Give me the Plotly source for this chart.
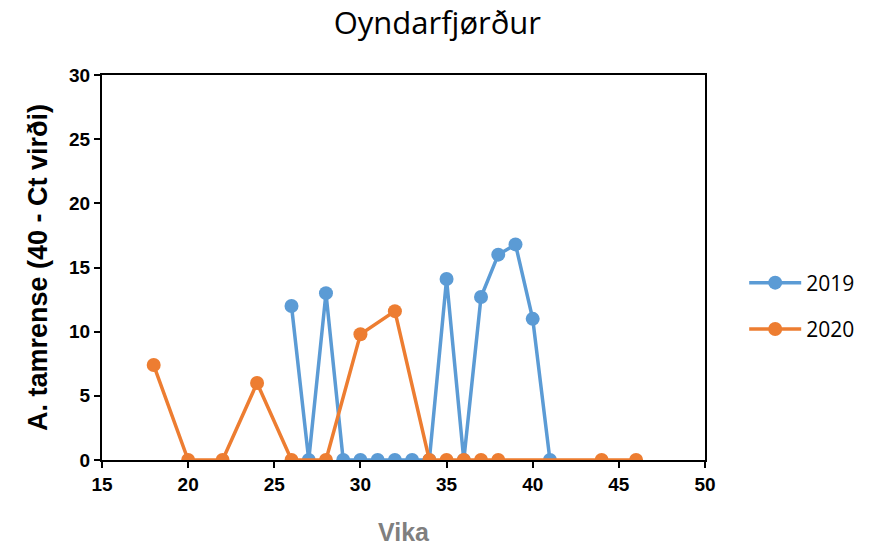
import plotly.graph_objects as go

weeks_2019 = [26, 27, 28, 29, 30, 31, 32, 33, 34, 35, 36, 37, 38, 39, 40, 41]
vals_2019 = [12, 0, 13, 0, 0, 0, 0, 0, 0, 14.1, 0, 12.7, 16, 16.8, 11, 0]
weeks_2020 = [18, 20, 22, 24, 26, 28, 30, 32, 34, 35, 36, 37, 38, 44, 46]
vals_2020 = [7.4, 0, 0, 6, 0, 0, 9.8, 11.6, 0, 0, 0, 0, 0, 0, 0]

fig = go.Figure()
fig.add_trace(go.Scatter(x=weeks_2019, y=vals_2019, name="2019", mode="lines+markers",
                         legendgroup="a",
                         line=dict(color="#5B9BD5", width=3.5),
                         marker=dict(color="#5B9BD5", size=14)))
fig.add_trace(go.Scatter(x=weeks_2020, y=vals_2020, name="2020", mode="lines+markers",
                         legendgroup="b",
                         line=dict(color="#ED7D31", width=3.5),
                         marker=dict(color="#ED7D31", size=14)))

font_family = "Liberation Sans, Arial, sans-serif"
fig.update_layout(
    width=878, height=548,
    margin=dict(l=94, r=181, t=67, b=96),
    paper_bgcolor="white", plot_bgcolor="white",
    title=dict(text="Oyndarfjørður", x=0.489, xanchor="center", xref="container", y=0.972, yanchor="middle",
               font=dict(family="Open Sans, sans-serif", size=31, color="black")),
    font=dict(family=font_family, color="black"),
    showlegend=True,
    legend=dict(x=1.065, y=0.4, yanchor="middle", xanchor="left", traceorder="grouped",
                font=dict(family="Open Sans, sans-serif", size=21, color="black"),
                itemwidth=52, tracegroupgap=16),
    xaxis=dict(range=[15, 50], dtick=5, tick0=15, showgrid=False, zeroline=False,
               showline=True, linecolor="black", linewidth=2, mirror=True,
               ticks="outside", ticklen=6, tickwidth=2, tickcolor="black",
               tickfont=dict(size=19, family=font_family, weight="bold"),
               title=dict(text="<b>Vika</b>", font=dict(size=25, color="#7F7F7F", family=font_family),
                          standoff=30)),
    yaxis=dict(range=[0, 30], dtick=5, showgrid=False, zeroline=False,
               showline=True, linecolor="black", linewidth=2, mirror=True,
               ticks="outside", ticklen=6, tickwidth=2, tickcolor="black",
               tickfont=dict(size=19, family=font_family, weight="bold"),
               title=dict(text="<b>A. tamrense (40 - Ct virði)</b>",
                          font=dict(size=27, color="black", family=font_family), standoff=14)),
)

fig.write_html("out.html")
